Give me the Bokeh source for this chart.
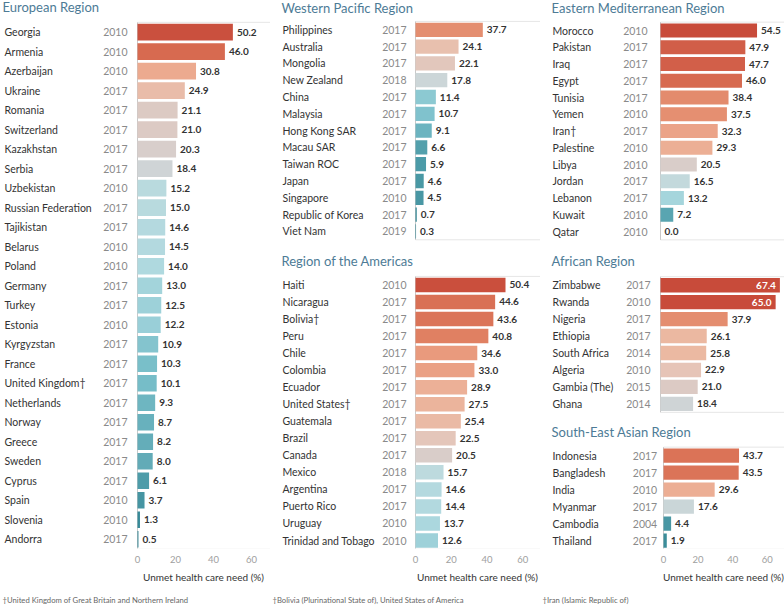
from bokeh.plotting import figure
from bokeh.models import Range1d, LinearAxis, FixedTicker, ColumnDataSource, Title, Label
from bokeh.layouts import row, column
from bokeh.embed import file_html
from bokeh.resources import INLINE
from bokeh.core.properties import value

# ---------------- data ----------------
eur_countries = ["Georgia", "Armenia", "Azerbaijan", "Ukraine", "Romania", "Switzerland",
                 "Kazakhstan", "Serbia", "Uzbekistan", "Russian Federation", "Tajikistan",
                 "Belarus", "Poland", "Germany", "Turkey", "Estonia", "Kyrgyzstan", "France",
                 "United Kingdom\u2020", "Netherlands", "Norway", "Greece", "Sweden", "Cyprus",
                 "Spain", "Slovenia", "Andorra"]
eur_years = ["2010", "2010", "2010", "2017", "2017", "2017", "2017", "2017", "2010", "2017",
             "2017", "2010", "2010", "2017", "2017", "2010", "2017", "2017", "2017", "2017",
             "2017", "2017", "2017", "2017", "2010", "2010", "2017"]
eur_values = [50.2, 46.0, 30.8, 24.9, 21.1, 21.0, 20.3, 18.4, 15.2, 15.0, 14.6, 14.5, 14.0,
              13.0, 12.5, 12.2, 10.9, 10.3, 10.1, 9.3, 8.7, 8.2, 8.0, 6.1, 3.7, 1.3, 0.5]

wp_countries = ["Philippines", "Australia", "Mongolia", "New Zealand", "China", "Malaysia",
                "Hong Kong SAR", "Macau SAR", "Taiwan ROC", "Japan", "Singapore",
                "Republic of Korea", "Viet Nam"]
wp_years = ["2017", "2017", "2017", "2018", "2017", "2017", "2017", "2017", "2017", "2017",
            "2010", "2017", "2019"]
wp_values = [37.7, 24.1, 22.1, 17.8, 11.4, 10.7, 9.1, 6.6, 5.9, 4.6, 4.5, 0.7, 0.3]

am_countries = ["Haiti", "Nicaragua", "Bolivia\u2020", "Peru", "Chile", "Colombia", "Ecuador",
                "United States\u2020", "Guatemala", "Brazil", "Canada", "Mexico", "Argentina",
                "Puerto Rico", "Uruguay", "Trinidad and Tobago"]
am_years = ["2010", "2017", "2017", "2017", "2017", "2017", "2017", "2017", "2017", "2017",
            "2017", "2018", "2017", "2017", "2010", "2010"]
am_values = [50.4, 44.6, 43.6, 40.8, 34.6, 33.0, 28.9, 27.5, 25.4, 22.5, 20.5, 15.7, 14.6,
             14.4, 13.7, 12.6]

em_countries = ["Morocco", "Pakistan", "Iraq", "Egypt", "Tunisia", "Yemen", "Iran\u2020",
                "Palestine", "Libya", "Jordan", "Lebanon", "Kuwait", "Qatar"]
em_years = ["2010", "2017", "2017", "2017", "2017", "2010", "2017", "2010", "2010", "2017",
            "2017", "2010", "2010"]
em_values = [54.5, 47.9, 47.7, 46.0, 38.4, 37.5, 32.3, 29.3, 20.5, 16.5, 13.2, 7.2, 0.0]

af_countries = ["Zimbabwe", "Rwanda", "Nigeria", "Ethiopia", "South Africa", "Algeria",
                "Gambia (The)", "Ghana"]
af_years = ["2017", "2010", "2017", "2017", "2014", "2010", "2015", "2014"]
af_values = [67.4, 65.0, 37.9, 26.1, 25.8, 22.9, 21.0, 18.4]

se_countries = ["Indonesia", "Bangladesh", "India", "Myanmar", "Cambodia", "Thailand"]
se_years = ["2017", "2017", "2010", "2017", "2004", "2017"]
se_values = [43.7, 43.5, 29.6, 17.6, 4.4, 1.9]

axis_ticks = [0, 20, 40, 60]
axis_title = "Unmet health care need (%)"
note_eur = "\u2020United Kingdom of Great Britain and Northern Ireland"
note_am = "\u2020Bolivia (Plurinational State of), United States of America"
note_em = "\u2020Iran (Islamic Republic of)"

# ---------------- style ----------------
FONT = "Lato"
TITLE_COLOR = "#4d7b96"
STOPS = [(0, "#2f8492"), (4, "#4896a3"), (6, "#4c9ba8"), (8, "#62abb7"), (10, "#74bcc7"),
         (12, "#97ced7"), (14, "#afd9df"), (16, "#c0dade"), (18, "#cdd5d7"), (19.5, "#d3d3d3"),
         (21, "#dccac4"), (23, "#e6c4b6"), (26, "#ebb8a1"), (30, "#ecad93"), (34, "#ea9c7f"),
         (38, "#e48d6f"), (42, "#de7a5d"), (46, "#d76a50"), (51, "#c84b3a")]


def _rgb(h):
    return tuple(int(h[i:i + 2], 16) for i in (1, 3, 5))


def color_for(v):
    if v <= STOPS[0][0]:
        return STOPS[0][1]
    for (a, ca), (b, cb) in zip(STOPS[:-1], STOPS[1:]):
        if v <= b:
            t = (v - a) / (b - a)
            r1, g1, b1 = _rgb(ca)
            r2, g2, b2 = _rgb(cb)
            return "#%02x%02x%02x" % (round(r1 + (r2 - r1) * t), round(g1 + (g2 - g1) * t),
                                      round(b1 + (b2 - b1) * t))
    return STOPS[-1][1]


XMAX = 70
BOTTOM = 62
AXIS_TITLE_PX = 10
AXIS_TITLE_W = 12.2 * AXIS_TITLE_PX  # approximate rendered width of the axis title


def panel(title, names, years, vals, width, height, frame_h, bar_px, title_c, row0, pitch,
          name_x, year_x, title_x, note=None):
    s = (width - bar_px) / XMAX
    L = bar_px / s
    n = len(names)
    p = figure(width=width, height=height, title=None,
               x_range=Range1d(-L, XMAX),
               y_range=Range1d(start=(frame_h - row0) / pitch, end=-row0 / pitch),
               x_axis_type=None, y_axis_type=None,
               output_backend="svg", toolbar_location=None,
               min_border_left=0, min_border_right=0, min_border_top=0,
               min_border_bottom=height - frame_h,
               outline_line_color=None, background_fill_color="white",
               border_fill_color="white")
    p.xgrid.visible = False
    p.ygrid.visible = False

    ys = list(range(n))
    inside = [v > 60 for v in vals]
    src = ColumnDataSource(dict(
        y=ys, v=vals, name=names, year=years,
        color=[color_for(v) for v in vals]))
    src_out = ColumnDataSource(dict(
        y=[y for y, i in zip(ys, inside) if not i],
        v=[v for v, i in zip(vals, inside) if not i],
        lab=["%.1f" % v for v, i in zip(vals, inside) if not i]))
    src_in = ColumnDataSource(dict(
        y=[y for y, i in zip(ys, inside) if i],
        v=[v for v, i in zip(vals, inside) if i],
        lab=["%.1f" % v for v, i in zip(vals, inside) if i]))

    # borders of the bar pane
    p.segment(x0=0, x1=XMAX, y0=-0.5, y1=-0.5, line_color="#e6e6e6", line_width=1)
    p.segment(x0=0, x1=XMAX, y0=n - 0.5, y1=n - 0.5, line_color="#e6e6e6", line_width=1)
    p.segment(x0=XMAX, x1=XMAX, y0=-0.5, y1=n - 0.5, line_color="#ececec", line_width=1)
    p.segment(x0=0, x1=0, y0=-0.5, y1=n - 0.5, line_color="#c9c9c9", line_width=1)

    p.hbar(y="y", left=0, right="v", height=0.85, fill_color="color", line_color=None,
           source=src)

    p.text(x=-L, y="y", text="name", x_offset=name_x, text_baseline="middle",
           text_align="left", text_font=value(FONT), text_font_size="10.5px",
           text_color="#333333", source=src)
    p.text(x=0, y="y", text="year", x_offset=year_x - bar_px, text_baseline="middle",
           text_align="right", text_font=value(FONT), text_font_size="10.5px",
           text_color="#8a8a8a", source=src)
    p.text(x="v", y="y", text="lab", x_offset=4, text_baseline="middle", text_align="left",
           text_font=value(FONT), text_font_size="10px", text_font_style="bold",
           text_color="#333333", source=src_out)
    p.text(x="v", y="y", text="lab", x_offset=-4, text_baseline="middle", text_align="right",
           text_font=value(FONT), text_font_size="10px", text_font_style="bold",
           text_color="#ffffff", source=src_in)

    p.add_layout(Label(x=-L, y=(title_c - row0) / pitch, x_offset=title_x, text=title,
                       text_baseline="middle", text_align="left", text_font=FONT,
                       text_font_size="13px", text_font_style="normal",
                       text_color=TITLE_COLOR))

    if note is not None:
        ax = LinearAxis(ticker=FixedTicker(ticks=axis_ticks), bounds=(0, XMAX),
                        axis_line_color=None, major_tick_line_color=None,
                        minor_tick_line_color=None,
                        major_label_text_font=FONT, major_label_text_font_size="9.5px",
                        major_label_text_color="#a0a0a0", major_label_standoff=1)
        p.add_layout(ax, "below")
        p.add_layout(Title(text=axis_title, align="left",
                           offset=bar_px + (width - bar_px) / 2 - AXIS_TITLE_W / 2,
                           text_font=FONT, text_font_size="%dpx" % AXIS_TITLE_PX,
                           text_font_style="normal", text_color="#333333", standoff=6),
                     "below")
        p.add_layout(Title(text=note, align="left", offset=2, text_font=FONT,
                           text_font_size="7.7px", text_font_style="normal",
                           text_color="#666666", standoff=15), "below")
    return p


eur = panel("European Region", eur_countries, eur_years, eur_values,
            270, 612, 550, 137, 7, 31.7, 19.58, 4, 127, 2, note_eur)
wp = panel("Western Pacific Region", wp_countries, wp_years, wp_values,
           270, 245, 245, 145, 7, 29.3, 16.8, 12, 136, 11)
am = panel("Region of the Americas", am_countries, am_years, am_values,
           270, 367, 367 - BOTTOM, 145, 15.7, 39.7, 17.15, 12, 136, 11, note_am)
em = panel("Eastern Mediterranean Region", em_countries, em_years, em_values,
           244, 245, 245, 120, 7, 30, 16.75, 12, 107, 11)
af = panel("African Region", af_countries, af_years, af_values,
           244, 175, 175, 120, 15.7, 39.7, 16.95, 12, 110, 11)
se = panel("South-East Asian Region", se_countries, se_years, se_values,
           244, 192, 192 - BOTTOM, 123, 12, 35.7, 17.26, 12, 116.7, 11, note_em)

layout = row(eur, column(wp, am, spacing=0), column(em, af, se, spacing=0), spacing=0)

open("out.html", "w").write(file_html(layout, INLINE))
